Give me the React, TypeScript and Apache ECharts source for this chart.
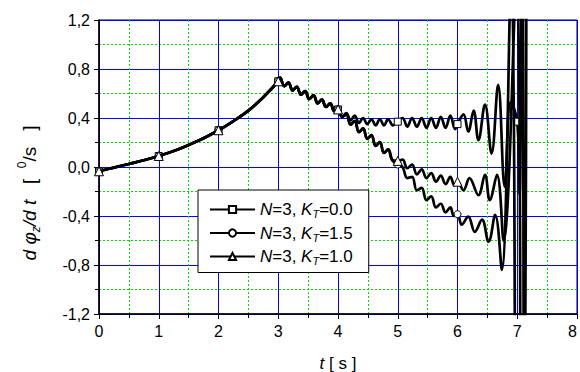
import React, { useEffect, useRef } from "react";
import * as echarts from "echarts";

// Shared curve (all three cases coincide up to t = 4 s)
const commonT = [0, 0.25, 0.5, 0.75, 1, 1.25, 1.5, 1.75, 2, 2.25, 2.5, 2.75, 3, 3.03, 3.1, 3.17, 3.24, 3.31, 3.38, 3.45, 3.52, 3.59, 3.66, 3.73, 3.8, 3.87, 3.94, 4];
const commonV = [-0.035, -0.005, 0.025, 0.055, 0.09, 0.13, 0.18, 0.235, 0.3, 0.375, 0.46, 0.57, 0.7, 0.73, 0.66, 0.69, 0.625, 0.655, 0.59, 0.62, 0.555, 0.585, 0.52, 0.55, 0.49, 0.52, 0.455, 0.47];

// K_T = 0.0 after t = 4 s
const squareT = [4.07, 4.14, 4.21, 4.28, 4.35, 4.42, 4.49, 4.56, 4.63, 4.7, 4.77, 4.84, 4.92, 5, 5.08, 5.16, 5.24, 5.32, 5.4, 5.48, 5.56, 5.64, 5.72, 5.8, 5.88, 5.96, 6, 6.1, 6.18, 6.27, 6.35, 6.46, 6.57, 6.68, 6.79, 6.89, 7, 7.04, 7.08, 7.12, 7.16];
const squareV = [0.41, 0.44, 0.38, 0.42, 0.36, 0.4, 0.35, 0.39, 0.34, 0.39, 0.34, 0.39, 0.34, 0.37, 0.4, 0.33, 0.4, 0.33, 0.4, 0.32, 0.4, 0.32, 0.41, 0.32, 0.42, 0.31, 0.35, 0.43, 0.29, 0.46, 0.22, 0.51, 0.11, 0.67, -0.16, 0.53, 0.37, -0.22, 3.0, -3.0, 3.0];

// K_T = 1.0 and 1.5 coincide between t = 4 s and t = 5 s
const descT = [4.07, 4.14, 4.21, 4.28, 4.35, 4.42, 4.49, 4.56, 4.63, 4.7, 4.77, 4.84, 4.91];
const descV = [0.41, 0.43, 0.345, 0.375, 0.285, 0.315, 0.23, 0.26, 0.172, 0.203, 0.115, 0.145, 0.055];

// K_T = 1.0 after t = 5 s
const triT = [5, 5.08, 5.16, 5.24, 5.32, 5.4, 5.48, 5.56, 5.64, 5.72, 5.8, 5.88, 5.95, 6, 6.1, 6.2, 6.35, 6.46, 6.54, 6.66, 6.77, 6.99, 7.05];
const triV = [0.05, 0.06, -0.01, 0.02, -0.06, -0.02, -0.09, -0.05, -0.12, -0.07, -0.14, -0.08, -0.15, -0.12, -0.19, -0.09, -0.23, -0.065, -0.27, -0.065, -0.6, 1.6, -1.6];

// K_T = 1.5 after t = 5 s
const circT = [5, 5.08, 5.16, 5.24, 5.32, 5.4, 5.48, 5.56, 5.64, 5.72, 5.8, 5.88, 5.94, 6, 6.07, 6.18, 6.29, 6.41, 6.52, 6.63, 6.74, 6.9, 6.96];
const circV = [0.02, 0.0, -0.09, -0.08, -0.19, -0.17, -0.27, -0.24, -0.33, -0.3, -0.37, -0.33, -0.4, -0.385, -0.47, -0.405, -0.53, -0.43, -0.61, -0.39, -0.84, 1.6, -1.6];

const ktLabels = ["0.0", "1.5", "1.0"];
const markerSymbols = ["rect", "circle", "triangle"];
const markerSizes = [7, 7, 9];

const FONT = "'Liberation Sans', Arial, Helvetica, sans-serif";

function buildData(ts: number[], vs: number[]) {
  return ts.map((t, i) =>
    Number.isInteger(t) ? { value: [t, vs[i]] } : { value: [t, vs[i]], symbol: "none" }
  );
}

export default function App() {
  const ref = useRef<HTMLDivElement>(null);
  useEffect(() => {
    if (!ref.current) return;
    const chart = echarts.init(ref.current, undefined, { renderer: "svg" });

    const seriesT = [
      commonT.concat(squareT),
      commonT.concat(descT, circT),
      commonT.concat(descT, triT),
    ];
    const seriesV = [
      commonV.concat(squareV),
      commonV.concat(descV, circV),
      commonV.concat(descV, triV),
    ];
    const names = ktLabels.map((k) => "N=3, K_T=" + k);

    const series = names.map((name, i) => ({
      type: "line",
      name,
      data: buildData(seriesT[i], seriesV[i]),
      smooth: 0.4,
      symbol: markerSymbols[i],
      symbolSize: markerSizes[i],
      showAllSymbol: true,
      clip: true,
      lineStyle: { color: "#000", width: 2.7 },
      itemStyle: { color: "#fff", borderColor: "#000", borderWidth: 1 },
      emphasis: { disabled: true },
      z: 3 + i,
    }));

    const richLegend = {
      i: { fontStyle: "italic", fontSize: 17, fontFamily: FONT, color: "#000", lineHeight: 20 },
      n: { fontSize: 17, fontFamily: FONT, color: "#000", lineHeight: 20 },
      s: { fontStyle: "italic", fontSize: 11, fontFamily: FONT, color: "#000", lineHeight: 20, verticalAlign: "bottom" },
    };

    chart.setOption({
      animation: false,
      backgroundColor: "#fff",
      grid: {
        left: 99,
        right: 1,
        top: 20,
        bottom: 58,
        show: true,
        borderColor: "#000",
        borderWidth: 1,
        backgroundColor: "transparent",
      },
      xAxis: {
        type: "value",
        min: 0,
        max: 8,
        interval: 1,
        axisLine: { show: true, onZero: false, lineStyle: { color: "#000", width: 1.5 } },
        axisTick: { show: true, length: 5, lineStyle: { color: "#000" } },
        minorTick: { show: true, splitNumber: 2, length: 4, lineStyle: { color: "#000" } },
        axisLabel: {
          fontSize: 16,
          fontFamily: FONT,
          color: "#000",
          margin: 9,
          alignMaxLabel: "right",
          formatter: (v: number) => String(v),
        },
        splitLine: { show: true, lineStyle: { color: "#0000ff", width: 1 } },
        minorSplitLine: { show: true, lineStyle: { color: "#00e000", width: 1, type: [2, 2] } },
      },
      yAxis: {
        type: "value",
        min: -1.2,
        max: 1.2,
        interval: 0.4,
        axisLine: { show: true, onZero: false, lineStyle: { color: "#000", width: 1.5 } },
        axisTick: { show: true, length: 5, lineStyle: { color: "#000" } },
        minorTick: { show: true, splitNumber: 2, length: 4, lineStyle: { color: "#000" } },
        axisLabel: {
          fontSize: 16,
          fontFamily: FONT,
          color: "#000",
          margin: 9,
          formatter: (v: number) => (Math.abs(v) < 1e-9 ? 0 : v).toFixed(1).replace(".", ","),
        },
        splitLine: { show: true, lineStyle: { color: "#0000ff", width: 1 } },
        minorSplitLine: { show: true, lineStyle: { color: "#00e000", width: 1, type: [2, 2] } },
      },
      legend: {
        show: true,
        orient: "vertical",
        left: 198,
        top: 190,
        backgroundColor: "#fff",
        borderColor: "#000",
        borderWidth: 1,
        borderRadius: 0,
        padding: [11, 16, 6, 11],
        itemWidth: 45,
        itemHeight: 9,
        itemGap: 5,
        data: names,
        textStyle: { fontSize: 17, fontFamily: FONT, color: "#000", rich: richLegend },
        formatter: (name: string) => {
          const k = name.split("=")[2];
          return "{i|N}{n|=3, }{i|K}{s|T}{n|=" + k + "}";
        },
      },
      graphic: [
        {
          type: "text",
          x: 338,
          y: 363,
          z: 10,
          style: {
            text: "{i|t}{n| [ s ]}",
            align: "center",
            verticalAlign: "middle",
            textAlign: "center",
            textVerticalAlign: "middle",
            fill: "#000",
            rich: {
              i: { fontStyle: "italic", fontSize: 17, fontFamily: FONT, fill: "#000" },
              n: { fontSize: 17, fontFamily: FONT, fill: "#000" },
            },
          },
        },
        {
          type: "text",
          x: 29,
          y: 193,
          rotation: Math.PI / 2,
          z: 10,
          style: {
            text: "{i|d φ}{s|z}{i|/d t}{n|   [  }{p|0}{n|/s   ]}",
            align: "center",
            verticalAlign: "middle",
            textAlign: "center",
            textVerticalAlign: "middle",
            fill: "#000",
            rich: {
              i: { fontStyle: "italic", fontSize: 19, fontFamily: FONT, fill: "#000", lineHeight: 26 },
              n: { fontSize: 19, fontFamily: FONT, fill: "#000", lineHeight: 26 },
              s: { fontStyle: "italic", fontSize: 12, fontFamily: FONT, fill: "#000", lineHeight: 26, verticalAlign: "bottom" },
              p: { fontSize: 12, fontFamily: FONT, fill: "#000", lineHeight: 26, verticalAlign: "top" },
            },
          },
        },
      ],
      series,
    });

    return () => chart.dispose();
  }, []);

  return (
    <div
      ref={ref}
      style={{ position: "absolute", left: 0, top: 0, width: 580, height: 372 }}
    />
  );
}
